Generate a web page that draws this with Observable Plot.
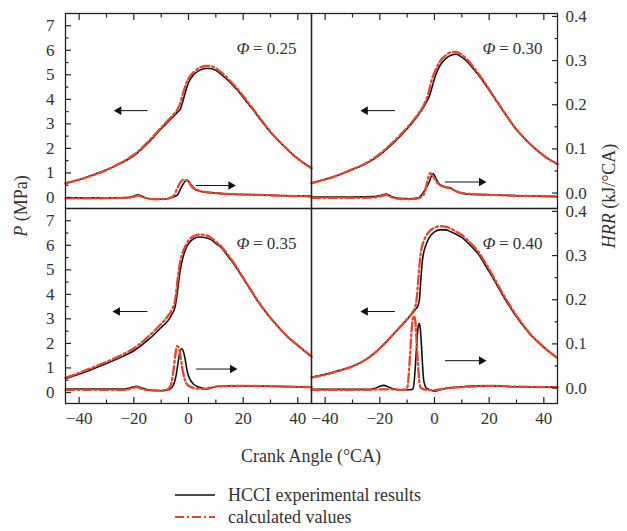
<!DOCTYPE html>
<html><head><meta charset="utf-8">
<script src="https://cdn.jsdelivr.net/npm/d3@7"></script>
<script src="https://cdn.jsdelivr.net/npm/@observablehq/plot@0.6"></script>
<style>
body{margin:0;background:#fff;}
#wrap{position:relative;width:627px;height:531px;font-family:"Liberation Serif","DejaVu Serif",serif;color:#333;}
.lab{position:absolute;font-size:18px;white-space:nowrap;transform:translate(-50%,-50%);}
.rot{transform:translate(-50%,-50%) rotate(-90deg);}
.leg{position:absolute;left:175px;height:20px;display:flex;align-items:center;font-size:18px;white-space:nowrap;}
.leg svg{margin-right:13px;}
</style></head><body><div id="wrap"></div>
<script>
// ---- tick values ----
const crankTicks = [-40, -20, 0, 20, 40];
const crankMinor = [-30, -10, 10, 30];
const pTicks = [0, 1, 2, 3, 4, 5, 6, 7];
const pMinor = [0.5, 1.5, 2.5, 3.5, 4.5, 5.5, 6.5];
const hrrTicks = [0, 0.1, 0.2, 0.3, 0.4];
const hrrMinor = [0.05, 0.15, 0.25, 0.35];

// ---- panels ----
const phiValues = ["0.25", "0.30", "0.35", "0.40"];
const panelCol = ["left", "right", "left", "right"];
const panelRow = ["top", "top", "bottom", "bottom"];

// ---- pressure P (MPa): [crank angle, P] ----
const pExp025 = [[-45,0.59],[-40,0.73],[-35,0.92],[-30,1.13],[-25,1.38],[-20,1.70],[-15,2.20],[-10,2.80],[-6,3.25],[-4,3.48],[-3,3.60],[-2,3.95],[-1,4.35],[0,4.68],[2,5.02],[4,5.18],[6,5.26],[8,5.26],[10,5.18],[12,5.02],[14,4.82],[16,4.60],[18,4.36],[20,4.08],[22,3.80],[24,3.52],[26,3.22],[28,2.93],[30,2.66],[32,2.42],[34,2.19],[36,1.98],[38,1.77],[40,1.58],[42,1.42],[45,1.20]];
const pCalc025 = [[-45,0.57],[-40,0.72],[-35,0.90],[-30,1.12],[-25,1.40],[-20,1.74],[-15,2.25],[-10,2.85],[-6,3.32],[-4,3.60],[-3,3.85],[-2,4.25],[-1,4.60],[0,4.85],[2,5.12],[4,5.28],[6,5.36],[8,5.36],[10,5.27],[12,5.10],[14,4.90],[16,4.66],[18,4.42],[20,4.14],[22,3.85],[24,3.56],[26,3.26],[28,2.96],[30,2.68],[32,2.43],[34,2.20],[36,1.98],[38,1.77],[40,1.58],[42,1.41],[45,1.19]];
const pExp030 = [[-45,0.59],[-40,0.74],[-35,0.92],[-30,1.14],[-25,1.38],[-20,1.74],[-15,2.22],[-10,2.80],[-6,3.35],[-4,3.68],[-3,3.88],[-2,4.10],[-1,4.45],[0,4.85],[1,5.15],[2,5.38],[4,5.65],[6,5.80],[8,5.84],[10,5.72],[12,5.54],[14,5.28],[16,5.00],[18,4.70],[20,4.37],[22,4.04],[24,3.71],[26,3.38],[28,3.06],[30,2.76],[32,2.52],[34,2.28],[36,2.07],[38,1.88],[40,1.70],[42,1.55],[45,1.36]];
const pCalc030 = [[-45,0.58],[-40,0.73],[-35,0.92],[-30,1.15],[-25,1.41],[-20,1.78],[-15,2.27],[-10,2.85],[-6,3.40],[-4,3.75],[-3,4.00],[-2,4.35],[-1,4.80],[0,5.10],[1,5.35],[2,5.55],[4,5.78],[6,5.92],[8,5.93],[10,5.82],[12,5.62],[14,5.35],[16,5.06],[18,4.75],[20,4.41],[22,4.07],[24,3.73],[26,3.40],[28,3.07],[30,2.77],[32,2.52],[34,2.28],[36,2.07],[38,1.88],[40,1.70],[42,1.55],[45,1.35]];
const pExp035 = [[-45,0.56],[-40,0.75],[-35,0.96],[-30,1.18],[-25,1.42],[-20,1.70],[-15,2.12],[-10,2.65],[-7,3.00],[-6,3.20],[-5,3.45],[-4.5,3.74],[-4,4.15],[-3.4,4.69],[-3,5.00],[-2,5.52],[-1,5.85],[0,6.07],[2,6.28],[4,6.34],[6,6.32],[8,6.24],[10,6.08],[12,5.90],[14,5.62],[16,5.33],[18,5.00],[20,4.65],[22,4.30],[24,3.95],[26,3.62],[28,3.32],[30,3.04],[32,2.78],[34,2.53],[36,2.30],[38,2.10],[40,1.92],[42,1.73],[45,1.45]];
const pCalc035 = [[-45,0.60],[-40,0.80],[-35,1.02],[-30,1.25],[-25,1.50],[-20,1.80],[-15,2.25],[-10,2.80],[-7,3.20],[-6,3.40],[-5,3.70],[-4.5,4.10],[-4,4.60],[-3.4,5.10],[-3,5.35],[-2,5.75],[-1,6.00],[0,6.20],[2,6.38],[4,6.44],[6,6.42],[8,6.33],[10,6.15],[12,5.95],[14,5.68],[16,5.38],[18,5.04],[20,4.68],[22,4.33],[24,3.97],[26,3.63],[28,3.32],[30,3.04],[32,2.78],[34,2.53],[36,2.30],[38,2.10],[40,1.92],[42,1.74],[45,1.47]];
const pExp040 = [[-45,0.62],[-40,0.74],[-35,0.89],[-30,1.07],[-25,1.35],[-20,1.80],[-15,2.38],[-10,2.98],[-7,3.38],[-6,3.55],[-5.5,3.80],[-5,4.60],[-4.5,5.30],[-4,5.68],[-3,6.05],[-2,6.30],[0,6.55],[2,6.63],[4,6.63],[6,6.55],[8,6.44],[10,6.32],[12,6.12],[14,5.90],[16,5.65],[18,5.30],[20,4.93],[22,4.55],[24,4.15],[26,3.77],[28,3.42],[30,3.08],[32,2.78],[34,2.50],[36,2.25],[38,2.04],[40,1.84],[42,1.65],[45,1.40]];
const pCalc040 = [[-45,0.60],[-40,0.72],[-35,0.88],[-30,1.06],[-25,1.35],[-20,1.80],[-15,2.38],[-10,3.00],[-8,3.28],[-7,3.50],[-6.5,3.85],[-6,4.50],[-5.5,5.20],[-5,5.70],[-4,6.15],[-3,6.40],[-2,6.55],[0,6.72],[2,6.78],[4,6.76],[6,6.68],[8,6.55],[10,6.42],[12,6.22],[14,6.00],[16,5.74],[18,5.40],[20,5.03],[22,4.63],[24,4.23],[26,3.84],[28,3.48],[30,3.13],[32,2.82],[34,2.53],[36,2.27],[38,2.05],[40,1.85],[42,1.66],[45,1.40]];

// ---- heat release rate HRR (kJ/°CA): [crank angle, HRR] ----
const hExp025 = [[-45,-0.011],[-35,-0.011],[-25,-0.011],[-21,-0.009],[-18.5,-0.004],[-16,-0.010],[-13,-0.014],[-9,-0.014],[-6,-0.010],[-4,-0.004],[-3,0.008],[-2,0.020],[-1,0.028],[-0.5,0.029],[0,0.027],[1,0.018],[2,0.011],[3,0.007],[5,0.003],[8,0.001],[14,-0.002],[25,-0.004],[35,-0.006],[45,-0.007]];
const hCalc025 = [[-45,-0.012],[-35,-0.012],[-25,-0.011],[-21,-0.010],[-18.5,-0.006],[-16,-0.011],[-12,-0.014],[-8,-0.013],[-6,-0.009],[-5,-0.002],[-4,0.012],[-3,0.024],[-2,0.030],[-1,0.030],[0,0.026],[1,0.016],[2,0.010],[4,0.005],[8,0.001],[14,-0.002],[25,-0.004],[35,-0.006],[45,-0.008]];
const hExp030 = [[-45,-0.009],[-30,-0.009],[-22,-0.008],[-19.5,-0.005],[-17.7,-0.002],[-16,-0.007],[-13,-0.012],[-9,-0.013],[-6,-0.011],[-4,0.002],[-3,0.012],[-2,0.024],[-1,0.040],[-0.5,0.044],[0,0.040],[0.8,0.029],[1.5,0.022],[2.6,0.017],[4,0.014],[5.7,0.012],[7,0.007],[8.7,0.002],[11.7,-0.002],[20,-0.004],[30,-0.006],[45,-0.008]];
const hCalc030 = [[-45,-0.011],[-30,-0.011],[-22,-0.010],[-19.5,-0.007],[-17.7,-0.004],[-16,-0.009],[-13,-0.013],[-9,-0.014],[-6,-0.012],[-4,-0.004],[-3,0.016],[-2.3,0.035],[-1.6,0.045],[-1,0.042],[0,0.033],[0.8,0.025],[2,0.018],[4,0.013],[6,0.010],[8,0.004],[11,-0.001],[20,-0.004],[30,-0.006],[45,-0.008]];
const hExp035 = [[-45,-0.002],[-30,-0.002],[-23,-0.002],[-21,0.001],[-19.1,0.004],[-17,0.0],[-14,-0.005],[-10,-0.006],[-7,-0.003],[-6,0.002],[-5.2,0.012],[-4.5,0.030],[-3.8,0.058],[-3.2,0.080],[-2.6,0.089],[-2,0.085],[-1.3,0.068],[-0.6,0.042],[0,0.028],[0.9,0.016],[2,0.008],[3.4,0.003],[5,0.0],[7,-0.002],[9,0.002],[11,0.004],[15,0.005],[20,0.005],[30,0.004],[45,0.002]];
const hCalc035 = [[-45,-0.004],[-30,-0.004],[-23,-0.004],[-21,-0.001],[-19,0.002],[-17,-0.002],[-14,-0.005],[-10,-0.006],[-8,-0.004],[-7,0.0],[-6.2,0.012],[-5.5,0.040],[-4.8,0.075],[-4.2,0.095],[-3.6,0.092],[-3,0.075],[-2.4,0.050],[-1.8,0.030],[-1.2,0.016],[-0.5,0.008],[1,0.002],[3,-0.001],[6,-0.002],[9,0.002],[12,0.004],[20,0.005],[30,0.004],[45,0.002]];
const hExp040 = [[-45,-0.003],[-30,-0.003],[-24,-0.003],[-22,-0.001],[-20,0.004],[-18.6,0.006],[-17,0.003],[-15,-0.002],[-12,-0.004],[-9,-0.004],[-8,-0.003],[-7.5,0.010],[-7,0.050],[-6.5,0.100],[-6,0.138],[-5.6,0.146],[-5.2,0.135],[-4.8,0.100],[-4.4,0.055],[-4,0.020],[-3.5,0.006],[-3,0.0],[-2,-0.003],[0,-0.007],[2,-0.004],[5,0.0],[10,0.003],[15,0.005],[20,0.005],[30,0.003],[45,0.002]];
const hCalc040 = [[-45,-0.004],[-30,-0.004],[-24,-0.004],[-20,-0.003],[-15,-0.003],[-12,-0.004],[-10.5,-0.003],[-9.8,0.005],[-9.2,0.050],[-8.6,0.110],[-8,0.155],[-7.5,0.163],[-7,0.150],[-6.5,0.100],[-6,0.050],[-5.5,0.012],[-5,0.0],[-3,-0.004],[0,-0.005],[3,-0.002],[5,0.0],[10,0.002],[15,0.004],[20,0.005],[30,0.003],[45,0.002]];

// ---- arrow annotations (data coordinates) ----
const pArrowFrom = [-15, -14.5, -15, -14.5];
const pArrowTo = [-25.5, -25.3, -26, -25.3];
const pArrowLevel = [3.54, 3.54, 3.3, 3.3];
const hArrowFrom = [2.7, 3.8, 2.7, 3.8];
const hArrowTo = [15.5, 17.2, 16.1, 17.2];
const hArrowLevel = [0.017, 0.025, 0.043, 0.062];

// ---- build tables ----
const expP = [pExp025, pExp030, pExp035, pExp040];
const calcP = [pCalc025, pCalc030, pCalc035, pCalc040];
const expH = [hExp025, hExp030, hExp035, hExp040];
const calcH = [hCalc025, hCalc030, hCalc035, hCalc040];

// HRR axis (right) aligned against P axis (left)
const hrrToP = d3.scaleLinear([0, 0.4], [0.18, 7.38]);

function table(pArrs, hArrs) {
  const out = [];
  phiValues.forEach((phi, i) => {
    pArrs[i].forEach(([x, v]) => out.push({fx: panelCol[i], fy: panelRow[i], x, y: v, curve: phi + "P"}));
    hArrs[i].forEach(([x, v]) => out.push({fx: panelCol[i], fy: panelRow[i], x, y: hrrToP(v), curve: phi + "H"}));
  });
  return out;
}
const expRows = table(expP, expH);
const calcRows = table(calcP, calcH);
const panelRows = phiValues.map((phi, i) => ({fx: panelCol[i], fy: panelRow[i], phi}));
const arrowRows = phiValues.flatMap((phi, i) => [
  {fx: panelCol[i], fy: panelRow[i], x1: pArrowFrom[i], x2: pArrowTo[i], y: pArrowLevel[i], dir: -1},
  {fx: panelCol[i], fy: panelRow[i], x1: hArrowFrom[i], x2: hArrowTo[i], y: hrrToP(hArrowLevel[i]), dir: 1}
]);

const ink = "#222";
const red = "#e8452c";
const fs = 17;

const chart = Plot.plot({
  width: 627, height: 470,
  marginLeft: 64, marginRight: 70, marginTop: 13, marginBottom: 67,
  style: {fontFamily: "'Liberation Serif', 'DejaVu Serif', serif", fontSize: fs + "px", color: "#333", background: "white"},
  fx: {domain: ["left", "right"], padding: 0, axis: null},
  fy: {domain: ["top", "bottom"], padding: 0, axis: null},
  x: {domain: [-45, 45]},
  y: {domain: [-0.45, 7.5]},
  marks: [
    Plot.line(expRows, {x: "x", y: "y", z: "curve", fx: "fx", fy: "fy", stroke: "#111", strokeWidth: 1.6, curve: "monotone-x"}),
    Plot.line(calcRows, {x: "x", y: "y", z: "curve", fx: "fx", fy: "fy", stroke: red, strokeWidth: 2.3, strokeDasharray: "9,3,2,3", curve: "monotone-x"}),
    Plot.link(arrowRows, {x1: "x1", x2: "x2", y1: "y", y2: "y", fx: "fx", fy: "fy", stroke: "#111", strokeWidth: 1}),
    Plot.dot(arrowRows, {x: "x2", y: "y", fx: "fx", fy: "fy", symbol: "triangle", r: 3.2, fill: "#111", rotate: d => d.dir > 0 ? 90 : -90}),
    Plot.text(panelRows, {fx: "fx", fy: "fy", frameAnchor: "top-right", text: d => "= " + d.phi, textAnchor: "end", dx: -15, dy: 28, fontSize: fs, fill: "#333"}),
    Plot.text(panelRows, {fx: "fx", fy: "fy", frameAnchor: "top-right", text: () => "Φ", textAnchor: "end", dx: -62, dy: 28, fontSize: fs, fontStyle: "italic", fill: "#333"}),
    Plot.frame({stroke: ink, strokeWidth: 1.3}),
    // left P axis (ticks pointing inward)
    Plot.axisY(pTicks, {anchor: "left", tickSize: 6, dx: 6, tickPadding: 11, label: null, stroke: ink, strokeWidth: 1.2, fill: "#333", fontSize: fs}),
    Plot.axisY(pMinor, {anchor: "left", tickSize: 3.5, dx: 3.5, label: null, stroke: ink, strokeWidth: 1.2, fill: "none"}),
    // right HRR axis
    Plot.axisY(hrrTicks.map(hrrToP), {anchor: "right", tickSize: 6, dx: -6, tickPadding: 8, label: null, stroke: ink, strokeWidth: 1.2, fill: "#333", fontSize: fs, tickFormat: p => d3.format(".1f")(hrrToP.invert(p))}),
    Plot.axisY(hrrMinor.map(hrrToP), {anchor: "right", tickSize: 3.5, dx: -3.5, label: null, stroke: ink, strokeWidth: 1.2, fill: "none"}),
    // bottom crank-angle axis
    Plot.axisX(crankTicks, {anchor: "bottom", tickSize: 6, dy: -6, tickPadding: 8, label: null, stroke: ink, strokeWidth: 1.2, fill: "#333", fontSize: fs, tickFormat: d3.format("d")}),
    Plot.axisX(crankMinor, {anchor: "bottom", tickSize: 3.5, dy: -3.5, label: null, stroke: ink, strokeWidth: 1.2, fill: "none"}),
    // top ticks
    Plot.axisX(crankTicks, {anchor: "top", tickSize: 6, dy: 6, label: null, stroke: ink, strokeWidth: 1.2, fill: "none"}),
    Plot.axisX(crankMinor, {anchor: "top", tickSize: 3.5, dy: 3.5, label: null, stroke: ink, strokeWidth: 1.2, fill: "none"})
  ]
});

const wrap = document.getElementById("wrap");
chart.style.position = "absolute";
chart.style.left = "0px";
chart.style.top = "0px";
wrap.appendChild(chart);

function addLabel(html, x, y, cls) {
  const d = document.createElement("div");
  d.className = "lab " + (cls || "");
  d.style.left = x + "px";
  d.style.top = y + "px";
  d.innerHTML = html;
  wrap.appendChild(d);
}
addLabel("<i>P</i> (MPa)", 21, 206, "rot");
addLabel("<i>HRR</i> (kJ/°CA)", 609, 196, "rot");
addLabel("Crank Angle (°CA)", 311, 456);

const legendItems = [
  {label: "HCCI experimental results", stroke: "#111", width: 1.6, dash: null},
  {label: "calculated values", stroke: red, width: 2, dash: "9,3,2,3"}
];
legendItems.forEach((it, i) => {
  const row = document.createElement("div");
  row.className = "leg";
  row.style.top = (485 + 22 * i) + "px";
  row.innerHTML = `<svg width="40" height="20"><line x1="0" y1="10" x2="40" y2="10" stroke="${it.stroke}" stroke-width="${it.width}" ${it.dash ? `stroke-dasharray="${it.dash}"` : ""}/></svg><span>${it.label}</span>`;
  wrap.appendChild(row);
});
</script></body></html>
